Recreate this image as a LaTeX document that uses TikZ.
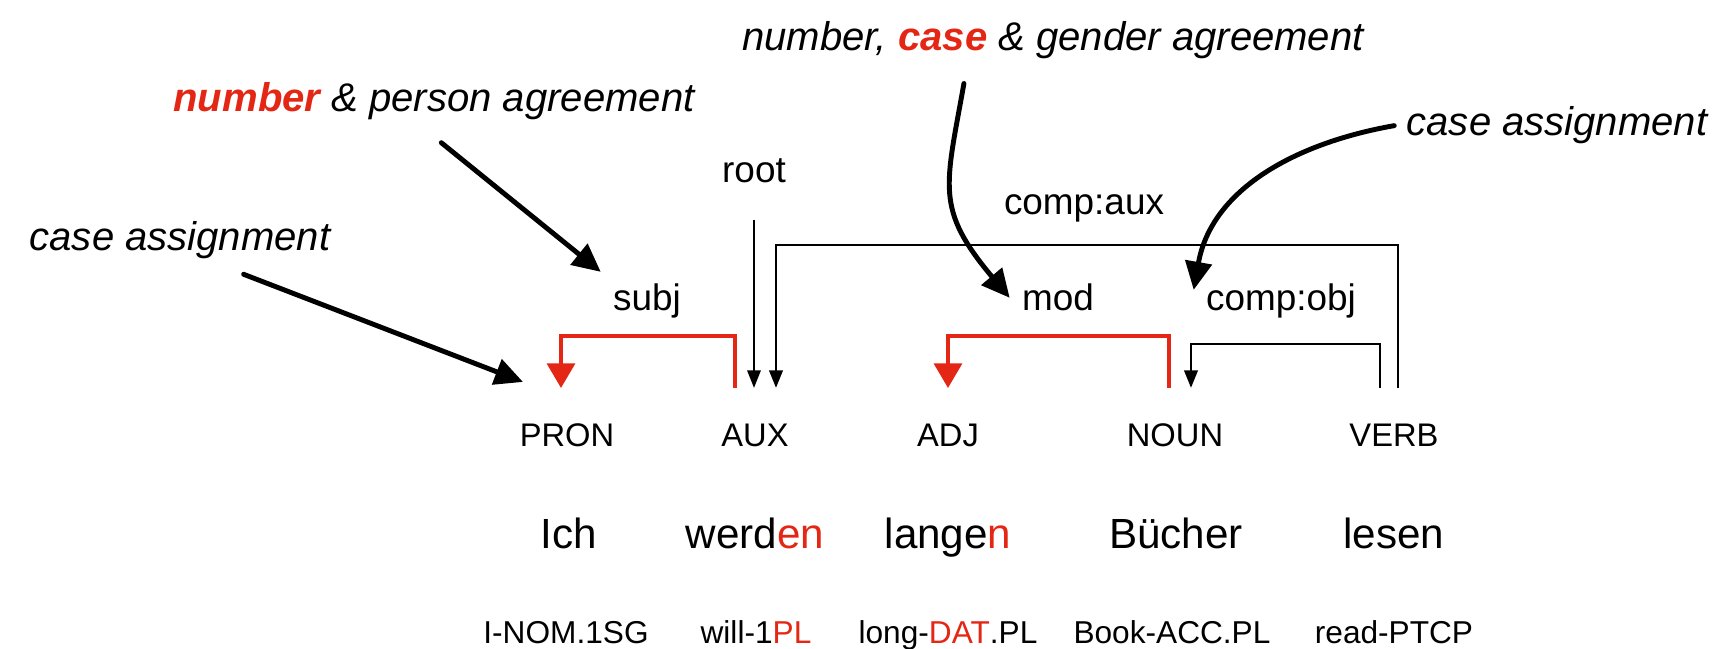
\documentclass[tikz,border=0pt]{standalone}
\usepackage{fontspec}
\setmainfont{Liberation Sans}
\usetikzlibrary{arrows.meta}
\definecolor{agrred}{RGB}{228,38,20}

\begin{document}
\begin{tikzpicture}[
  postag/.style={font=\fontsize{9.3}{11}\selectfont, inner sep=0pt, text height=6.7pt, text depth=0pt, outer ysep=0.35cm, anchor=base},
  wordnode/.style={font=\fontsize{12}{14}\selectfont, anchor=base},
  glossnode/.style={font=\fontsize{9}{11}\selectfont, anchor=base},
  relnode/.style={font=\fontsize{10.5}{12}\selectfont, anchor=base},
  notenode/.style={font=\fontsize{11.4}{13}\selectfont\itshape, anchor=base},
  deparc/.style={line width=0.8pt, -{Triangle[length=5pt,width=3.8pt]}},
  agr/.style={agrred, line width=0.9pt, -{Triangle[length=7pt,width=8pt]}},
  pointer/.style={line width=1.4pt, line cap=round, -{Triangle[length=8pt,width=7.5pt]}}
]
  \useasboundingbox (0,0) rectangle (17.16,6.49);
  % part-of-speech tags
  \node[postag] (pron) at (5.67,2.025) {PRON};
  \node[postag] (aux) at (7.55,2.025) {AUX};
  \node[postag] (adj) at (9.48,2.025) {ADJ};
  \node[postag] (noun) at (11.75,2.025) {NOUN};
  \node[postag] (verb) at (13.94,2.025) {VERB};
  % words
  \node[wordnode] (ich) at (5.69,1.00) {Ich};
  \node[wordnode] (werden) at (7.55,1.00) {werd\textcolor{agrred}{en}};
  \node[wordnode] (langen) at (9.48,1.00) {lange\textcolor{agrred}{n}};
  \node[wordnode] (buecher) at (11.76,1.00) {Bücher};
  \node[wordnode] (lesen) at (13.94,1.00) {lesen};
  % glosses
  \node[glossnode] (g1) at (5.66,0.055) {I-NOM.1SG};
  \node[glossnode] (g2) at (7.56,0.055) {will-1\textcolor{agrred}{PL}};
  \node[glossnode] (g3) at (9.48,0.055) {long-\textcolor{agrred}{DAT}.PL};
  \node[glossnode] (g4) at (11.72,0.055) {Book-ACC.PL};
  \node[glossnode] (g5) at (13.94,0.055) {read-PTCP};
  % relation labels
  \node[relnode] (subj) at (6.47,3.38) {subj};
  \node[relnode] (root) at (7.54,4.66) {root};
  \node[relnode] (compaux) at (10.84,4.34) {comp:aux};
  \node[relnode] (mod) at (10.58,3.38) {mod};
  \node[relnode] (compobj) at (12.81,3.38) {comp:obj};
  % dependency arcs
  \draw[agr] ([xshift=-0.20cm]aux.north) -- ++(0,0.52) -| ([xshift=-0.06cm]pron.north);
  \draw[deparc, line width=0.6pt] ([yshift=-0.24cm]root.south) -- (root.south |- aux.north);
  \draw[deparc] ([xshift=0.04cm]verb.north) -- ++(0,1.43) -| ([xshift=0.21cm]aux.north);
  \draw[agr] ([xshift=-0.06cm]noun.north) -- ++(0,0.52) -| (adj.north);
  \draw[deparc] ([xshift=-0.14cm]verb.north) -- ++(0,0.44) -| ([xshift=0.16cm]noun.north);
  % annotations
  \node[notenode] (npa) at (4.34,5.37) {\textbf{\color{agrred}number} \& person agreement};
  \node[notenode] (lca) at (1.80,3.98) {case assignment};
  \node[notenode] (ncg) at (10.53,5.98) {number, \textbf{\color{agrred}case} \& gender agreement};
  \node[notenode] (rca) at (15.57,5.13) {case assignment};
  \draw[pointer, shorten <=4.5pt] ([xshift=-0.05cm]npa.south) -- (subj.north west);
  \draw[pointer, shorten <=2pt] ([xshift=0.57cm]lca.south) -- ([xshift=-0.44cm,yshift=0.06cm]pron.north);
  \draw[pointer, shorten <=3.4pt] ([xshift=-0.87cm]ncg.south) to[out=-100,in=130,looseness=1.3] (mod.west);
  \draw[pointer] (rca.west) to[out=190,in=80] ([yshift=-0.18cm]compobj.north west);
\end{tikzpicture}
\end{document}
